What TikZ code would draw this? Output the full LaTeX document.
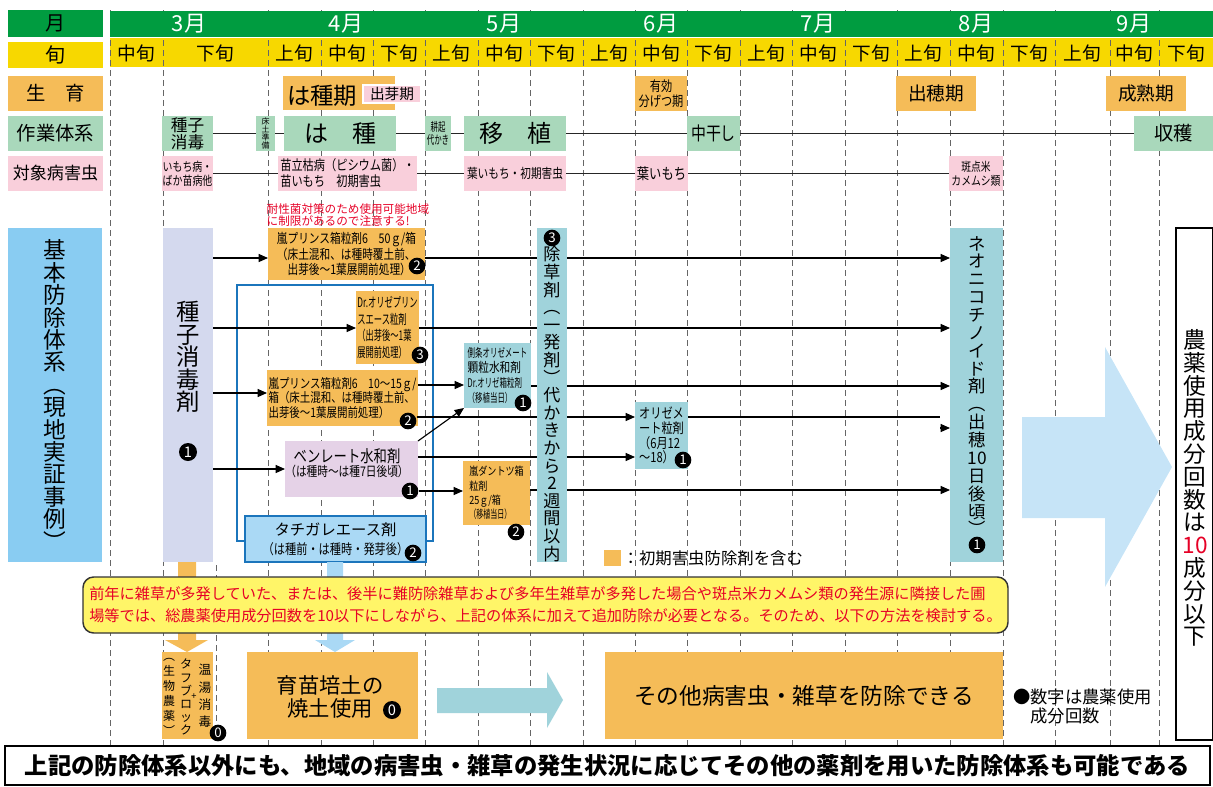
\documentclass[tikz,border=0pt]{standalone}
\usepackage{fontspec}
\setmainfont{Noto Sans CJK JP}
\newfontfamily\cjkc[FakeStretch=0.8]{Noto Sans CJK JP}
\newfontfamily\cjkn[FakeStretch=0.62]{Noto Sans CJK JP}
\usetikzlibrary{arrows.meta}

\definecolor{mgreen}{RGB}{0,156,64}
\definecolor{dyellow}{RGB}{247,216,0}
\definecolor{gorange}{RGB}{245,188,88}
\definecolor{wmint}{RGB}{169,216,187}
\definecolor{ppink}{RGB}{249,207,219}
\definecolor{dteal}{RGB}{160,211,219}
\definecolor{slav}{RGB}{212,217,238}
\definecolor{blav}{RGB}{229,210,231}
\definecolor{skyb}{RGB}{137,204,242}
\definecolor{tblue}{RGB}{27,117,188}
\definecolor{tfill}{RGB}{170,217,245}
\definecolor{bigarr}{RGB}{198,228,247}
\definecolor{notey}{RGB}{255,245,104}
\definecolor{notered}{RGB}{230,0,38}

\newcommand{\fsz}[2]{\fontsize{#1}{#2}\selectfont}
% box by its corners: name, x1, y1, x2, y2, style, text
\newcommand{\panel}[7]{\node[cell, minimum width={(#4-#2)*0.75pt}, minimum height={(#5-#3)*0.75pt}, #6] (#1) at ({(#2+#4)/2},{(#3+#5)/2}) {#7};}

\tikzset{
  cell/.style={inner sep=0pt, outer sep=0pt, align=center},
  num/.style={circle, fill=black, text=white, inner sep=0pt, minimum size=12.5pt, font=\fsz{10}{10}},
  decline/.style={draw=black!60, line width=0.7pt, dash pattern=on 4.5pt off 3pt},
  rowline/.style={line width=1.3pt, draw=black!85},
  feed/.style={line width=0.85pt, -{Triangle[length=7pt,width=6pt]}},
  vtxt/.style={inner sep=0pt, align=center}
}

\begin{document}
\begin{tikzpicture}[x=0.75pt, y=-0.75pt]
\useasboundingbox (0,0) rectangle (1213,786);
\fill[dyellow] (110,38) rectangle (1213,67); % decade band
\foreach \x in {110,163,268,321,373,425,478,530,583,635,687,740,792,845,897,950,1003,1055,1110,1159}
  \draw[decline] (\x,10) -- (\x,745); % decade lines
\draw[decline] (216,565) -- (216,745); % extra line below the system
\fill[mgreen] (110,11) rectangle (1213,37); % month band
\foreach \m/\x in {3/189,4/346,5/504,6/661,7/818,8/976,9/1134}
  \node[text=white, font=\fsz{16.5}{16.5}] (mon\m) at (\x,24) {\m{}月};
\foreach \x/\nm [count=\i] in {136.5/中,215.5/下,294.5/上,347/中,399/下,451.5/上,504/中,556.5/下,609/上,661/中,713.5/下,766/上,818.5/中,871/下,923.5/上,976.5/中,1029/下,1082.5/上,1134.5/中,1186/下}
  \node[font=\fsz{14}{14}] (dec\i) at (\x,53) {\nm{}旬};

% row labels
\panel{lmon}{8}{10}{103}{37}{fill=mgreen, font=\fsz{15}{15}}{月}
\panel{ldec}{8}{42}{103}{68}{fill=dyellow, font=\fsz{15}{15}}{旬}
\panel{lgrow}{8}{76}{103}{111}{fill=gorange, font=\fsz{14.5}{14.5}}{生　育}
\panel{lwork}{8}{116}{103}{151}{fill=wmint, font=\fsz{14.5}{14.5}}{作業体系}
\panel{lpest}{8}{156}{103}{191}{fill=ppink, font=\fsz{12.8}{12.8}}{対象病害虫}

% growth stages
\panel{sow}{283}{76}{395}{110}{fill=gorange}{}
\node[font=\fsz{17.5}{17.5}] (sowt) at (322,96) {は種期};
\panel{emerge}{363}{85}{421}{103}{fill=ppink, draw=white, line width=0.8pt, font=\fsz{11}{11}}{出芽期}
\panel{tiller}{635}{76}{687}{111}{fill=gorange, font=\cjkc\fsz{10.5}{11.5}}{有効\\分げつ期}
\panel{head}{896}{76}{976}{111}{fill=gorange, font=\fsz{14}{14}}{出穂期}
\panel{ripe}{1106}{76}{1186}{111}{fill=gorange, font=\fsz{14}{14}}{成熟期}

% work steps
\panel{wseed}{162}{116}{213}{151}{fill=wmint, font=\fsz{12.5}{11.5}}{種子\\消毒}
\panel{wbed}{256}{116}{275}{151}{fill=wmint, font=\fsz{6}{6.2}}{床\\土\\準\\備}
\panel{wsow}{284}{116}{396}{151}{fill=wmint, font=\fsz{18}{18}}{は　種}
\panel{wtill}{425}{116}{451}{151}{fill=wmint, font=\cjkn\fsz{9}{9.75}}{耕起\\代かき}
\panel{wplant}{464}{116}{566}{151}{fill=wmint, font=\fsz{18}{18}}{移　植}
\panel{wdry}{687}{116}{740}{151}{fill=wmint, font=\cjkc\fsz{14}{14}}{中干し}
\panel{wharv}{1134}{116}{1213}{151}{fill=wmint, font=\fsz{14.5}{14.5}}{収穫}
\draw[rowline] (wseed) -- (wbed) -- (wsow) -- (wtill) -- (wplant) -- (wdry) -- (wharv);

% target pests
\panel{pblast}{162}{156}{213}{191}{fill=ppink, font=\cjkc\fsz{9.3}{10.5}}{いもち病・\\ばか苗病他}
\panel{pdamp}{278}{156}{417}{191}{fill=ppink, align=left, font=\cjkc\fsz{10.5}{12}}{苗立枯病（ピシウム菌）・\\苗いもち　初期害虫}
\panel{pleaf}{464}{156}{566}{191}{fill=ppink, font=\cjkc\fsz{10}{10}}{葉いもち・初期害虫}
\panel{pleaf2}{635}{156}{688}{191}{fill=ppink, font=\cjkc\fsz{11.5}{11.5}}{葉いもち}
\panel{pbug}{949}{156}{1003}{191}{fill=ppink, font=\cjkc\fsz{9.2}{10.5}}{斑点米\\カメムシ類}
\draw[rowline] (pblast) -- (pdamp) -- (pleaf) -- (pleaf2) -- (pbug);

% basic control system
\panel{basic}{8}{228}{102}{562}{fill=skyb, font=\fsz{17}{16.8}}{基\\本\\防\\除\\体\\系\\︵\\現\\地\\実\\証\\事\\例\\︶}
\panel{seed}{163}{228}{213}{562}{fill=slav}{}
\node[vtxt, font=\fsz{17.5}{16.9}] (seedt) at (188,357) {種\\子\\消\\毒\\剤};
\node[num, minimum size=13.5pt, font=\fsz{11}{11}] (seedn) at (188,452) {1};
\node[anchor=west, align=left, text=notered, font=\fsz{8.7}{9}] (warn) at (262,215) {耐性菌対策のため使用可能地域\\に制限があるので注意する!};

\panel{prA}{268}{228}{425}{280}{fill=gorange, align=left, font=\cjkc\fsz{10}{11}}{嵐プリンス箱粒剤6　50ｇ/箱\\（床土混和、は種時覆土前、\\　出芽後～1葉展開前処理）}
\node[num] (prAn) at (417,266) {2};
\draw[tblue, line width=1.5pt] (237,285) rectangle (433,541); % box pesticide frame
\panel{prB}{356}{291}{419}{364}{fill=gorange, align=left, font=\cjkn\fsz{10}{12.5}}{Dr.オリゼプリン\\スエース粒剤\\（出芽後～1葉\\展開前処理）}
\node[num] (prBn) at (420,355) {3};
\panel{prC}{267}{370}{418}{426}{fill=gorange, align=left, font=\cjkc\fsz{9.8}{10.9}}{嵐プリンス箱粒剤6　10～15ｇ/\\箱（床土混和、は種時覆土前、\\出芽後～1葉展開前処理）}
\node[num] (prCn) at (408,421) {2};
\panel{benl}{285}{441}{418}{497}{fill=blav}{}
\node[cell, font=\cjkc\fsz{12.5}{11}] (benlt) at (347,463) {ベンレート水和剤\\{\fsz{10}{11}（は種時～は種7日後頃）}};
\node[num] (benln) at (410,491) {1};
\panel{tachi}{245}{516}{426}{562}{fill=tfill, draw=tblue, line width=1.2pt, font=\fsz{11.5}{14.2}}{タチガレエース剤\\{\cjkc\fsz{10.5}{14.2}（は種前・は種時・発芽後）}}
\node[num] (tachin) at (413,553) {2};

\panel{side}{464}{343}{531}{408}{fill=dteal, align=left, font=\cjkn\fsz{9}{11.2}}{側条オリゼメート\\{\cjkc\fsz{10}{11.2}顆粒水和剤}\\Dr.オリゼ箱粒剤\\（移植当日）}
\node[num] (siden) at (523,403) {1};
\panel{dant}{463}{461}{530}{525}{fill=gorange, align=left, font=\cjkc\fsz{8.5}{10.8}}{嵐ダントツ箱\\粒剤\\25ｇ/箱\\{\cjkn （移植当日）}}
\node[num] (dantn) at (516,532) {2};
\panel{oriz}{635}{402}{688}{469}{fill=dteal, align=left, font=\cjkc\fsz{10.5}{11}}{オリゼメ\\ート粒剤\\（6月12\\～18）}
\node[num] (orizn) at (683,460) {1};
\panel{neo}{950}{228}{1003}{562}{fill=dteal}{}
\node[vtxt, font=\fsz{13}{13.4}] (neot) at (977,386) {ネ\\オ\\ニ\\コ\\チ\\ノ\\イ\\ド\\剤\\︵\\出\\穂\\10\\日\\後\\頃\\︶};
\node[num] (neon) at (977,545) {1};

% feeds into the later treatments
\coordinate (stub) at (940,417);
\coordinate (stubhead) at (940,428);
\draw[feed] (seed.east |- 0,258) -- (prA.west |- 0,258);
\draw[feed] (prA.east |- 0,258) -- (neo.west |- 0,258);
\draw[feed] (seed.east |- 0,328) -- (prB.west |- 0,328);
\draw[feed] (prB.east |- 0,328) -- (neo.west |- 0,328);
\draw[feed] (seed.east |- 0,393) -- (prC.west |- 0,393);
\draw[feed] (prC.east |- 0,385) -- (side.west |- 0,385);
\draw[feed] (side.east |- 0,386) -- (neo.west |- 0,386);
\draw[feed] (prCn.east |- 0,417) -- (oriz.west |- 0,417);
\draw[line width=0.85pt] (oriz.east |- stub) -- (stub);
\draw[feed] (stubhead) -- (neo.west |- stubhead);
\draw[feed] (seed.east |- benl.west) -- (benl.west);
\draw[feed] (benl.north east) -- (side.south west);
\draw[feed] (benl.east |- 0,457) -- (oriz.west |- 0,457);
\draw[feed] (benln.east) -- (dant.west |- benln.east);
\draw[feed] (dant.east |- 0,490) -- (neo.west |- 0,490);

\panel{herb}{537}{228}{567}{562}{fill=dteal}{}
\node[num] (herbn) at (552,238) {3};
\node[vtxt, font=\fsz{12.8}{13.2}] (herbt) at (552,404) {除\\草\\剤\\︵\\一\\発\\剤\\︶\\代\\か\\き\\か\\ら\\2\\週\\間\\以\\内};

\panel{legsq}{604}{550}{621}{566}{fill=gorange}{}
\node[anchor=west, inner sep=1pt, font=\fsz{12.3}{12.3}] (legtx) at (legsq.east) {：初期害虫防除剤を含む};

% total count
\fill[bigarr] (1022,417) -- (1105,417) -- (1105,347) -- (1172,467) -- (1105,587) -- (1105,518) -- (1022,518) -- cycle;
\panel{total}{1176}{228}{1213}{740}{draw=black, line width=2.2pt}{}
\node[vtxt, font=\fsz{17}{17.1}] (totalt) at (1195,488) {農\\薬\\使\\用\\成\\分\\回\\数\\は\\\textcolor{notered}{10}\\成\\分\\以\\下};

% extra control
\fill[gorange] (178,562) -- (196,562) -- (196,640) -- (208,640) -- (187,652) -- (165,640) -- (178,640) -- cycle;
\fill[tfill] (327,562) -- (343,562) -- (343,640) -- (355,640) -- (335,652) -- (315,640) -- (327,640) -- cycle;
\panel{note}{83}{577}{1008}{633}{draw=black!80, fill=notey, rounded corners=8pt, line width=1.1pt, text=notered, align=left, font=\fsz{11.4}{16.5}}{前年に雑草が多発していた、または、後半に難防除雑草および多年生雑草が多発した場合や斑点米カメムシ類の発生源に隣接した圃\\場等では、総農薬使用成分回数を10以下にしながら、上記の体系に加えて追加防除が必要となる。そのため、以下の方法を検討する。}

\panel{tough}{162}{652}{213}{739}{fill=gorange}{}
\node[vtxt, font=\fsz{9}{11.2}] (toughA) at (169,697) {︵\\生\\物\\農\\薬\\︶};
\node[vtxt, font=\fsz{9}{9.8}] (toughB) at (186,697) {タ\\フ\\ブ\\ロ\\ッ\\ク};
\node[vtxt, font=\fsz{7}{7}] (toughP) at (194,697) {+};
\node[vtxt, font=\fsz{9.5}{13}] (toughC) at (205,696) {温\\湯\\消\\毒};
\node[num] (toughn) at (218,733) {0};
\panel{soil}{247}{652}{418}{739}{fill=gorange}{}
\node[vtxt, font=\fsz{16}{17.3}] (soilt) at (330,697) {育苗培土の\\焼土使用};
\node[num, minimum size=13.5pt, font=\fsz{11}{11}] (soiln) at (392,710) {0};
\fill[dteal] (437,688) -- (547,688) -- (547,672) -- (563,700) -- (547,728) -- (547,713) -- (437,713) -- cycle;
\panel{other}{605}{652}{1003}{739}{fill=gorange, font=\fsz{17}{17}}{その他病害虫・雑草を防除できる}
\node[anchor=north west, inner sep=0pt, align=left, font=\fsz{13}{14.3}] (key) at (1013,689) {●数字は農薬使用\\　成分回数};

\panel{foot}{5}{746}{1210}{785}{draw=black, line width=1.1pt, font=\bfseries\fsz{17.5}{17.5}}{上記の防除体系以外にも、地域の病害虫・雑草の発生状況に応じてその他の薬剤を用いた防除体系も可能である}
\end{tikzpicture}
\end{document}
